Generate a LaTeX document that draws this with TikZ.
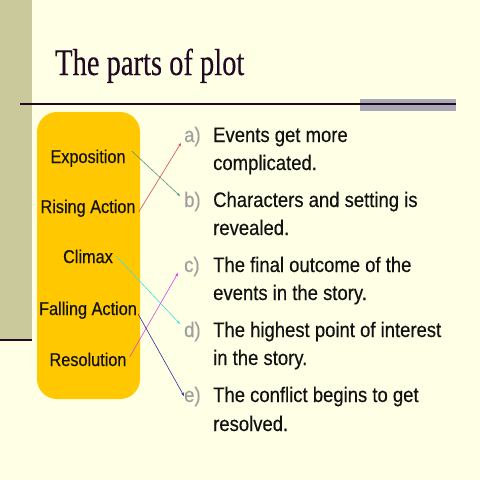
\documentclass[tikz,border=0pt]{standalone}
\usepackage{fontspec}
\setmainfont{Liberation Sans}
\newfontfamily\condsans[FakeStretch=0.88,FakeBold=0.35]{Liberation Sans}
\newfontfamily\condserif[FakeStretch=0.76,FakeBold=0.2]{Liberation Serif}
\usetikzlibrary{arrows.meta}
\definecolor{bgc}{HTML}{FFFFE6}
\definecolor{barc}{HTML}{C9C99C}
\definecolor{grayc}{HTML}{A8A8B6}
\definecolor{titlec}{HTML}{220822}
\definecolor{goldc}{HTML}{FFC800}
\definecolor{labc}{HTML}{A0A0A0}
\definecolor{txtc}{HTML}{111111}
\definecolor{arrG}{HTML}{4F9A78}
\definecolor{arrR}{HTML}{E04848}
\definecolor{arrC}{HTML}{40E0E0}
\definecolor{arrM}{HTML}{E040E0}
\definecolor{arrB}{HTML}{2E2EA0}
\begin{document}
\begin{tikzpicture}[x=1pt,y=-1pt,
  lefttext/.style={anchor=base,inner sep=0pt,text=txtc,font=\condsans\fontsize{18.5}{20}\selectfont},
  righttext/.style={anchor=base west,inner sep=0pt,text=txtc,font=\condsans\fontsize{21}{24}\selectfont},
  lettertext/.style={anchor=base west,inner sep=0pt,text=labc,font=\condsans\fontsize{21}{24}\selectfont},
  conn/.style={line width=0.6pt,-{Stealth[length=3.5pt,width=2.8pt]}}]
\useasboundingbox (0,0) rectangle (480,480);
\fill[bgc] (0,0) rectangle (480,480);
% left bar
\fill[barc] (0,0) rectangle (32,340);
\draw[titlec,line width=1.5pt] (0,340) -- (32,340);
% title
\node[anchor=base west,inner sep=0pt,text=titlec,font=\condserif\fontsize{37.5}{40}\selectfont] (title) at (55,75) {The parts of plot};
% rule
\fill[grayc] (360,99) rectangle (456,111);
\draw[titlec,line width=1.4pt] (20,104) -- (456,104);
% gold box
\fill[goldc,rounded corners=20pt] (37,112) rectangle (140,399);
% left items
\node[lefttext] (expo) at (88,163) {Exposition};
\node[lefttext] (rise) at (88,213) {Rising Action};
\node[lefttext] (clim) at (88,263) {Climax};
\node[lefttext] (fall) at (88,315) {Falling Action};
\node[lefttext] (reso) at (88,366) {Resolution};
% right items
\node[lettertext] (la) at (184,142) {a)};
\node[righttext] (ta1) at (213,142) {Events get more};
\node[righttext] (ta2) at (213,170) {complicated.};
\node[lettertext] (lb) at (184,207) {b)};
\node[righttext] (tb1) at (213,207) {Characters and setting is};
\node[righttext] (tb2) at (213,235) {revealed.};
\node[lettertext] (lc) at (184,272) {c)};
\node[righttext] (tc1) at (213,272) {The final outcome of the};
\node[righttext] (tc2) at (213,300) {events in the story.};
\node[lettertext] (ld) at (184,337) {d)};
\node[righttext] (td1) at (213,337) {The highest point of interest};
\node[righttext] (td2) at (213,365) {in the story.};
\node[lettertext] (le) at (184,402) {e)};
\node[righttext] (te1) at (213,402) {The conflict begins to get};
\node[righttext] (te2) at (213,431) {resolved.};
% arrow end points
\coordinate (ea) at (181,143);
\coordinate (eb) at (180,196);
\coordinate (ec) at (178,273);
\coordinate (ed) at (180,324);
\coordinate (ee) at (184,396);
% connectors
\draw[conn,arrG] ([shift={(6,-12)}]expo.base east) -- (eb);
\draw[conn,arrR] ([shift={(3,-1)}]rise.base east) -- (ea);
\draw[conn,arrC] ([shift={(3,-7)}]clim.base east) -- (ed);
\draw[conn,arrM] ([shift={(3,-9)}]reso.base east) -- (ec);
\draw[conn,arrB] ([shift={(1,-1)}]fall.base east) -- (ee);
\end{tikzpicture}
\end{document}
